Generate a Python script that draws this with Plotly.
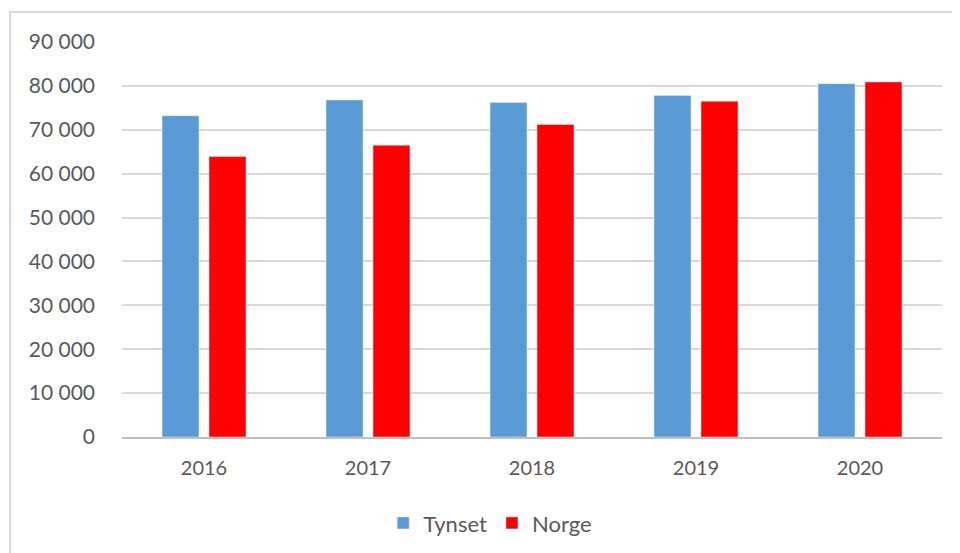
import plotly.graph_objs as go

years = ["2016", "2017", "2018", "2019", "2020"]
tynset = [73200, 76800, 76200, 77800, 80500]
norge = [63900, 66500, 71200, 76500, 80900]

colors = {'tynset': '#5B9BD5', 'norge': '#FF0000', 'text': '#595959', 'grid': '#D9D9D9'}

fig = go.Figure()
fig.add_trace(go.Bar(x=years, y=tynset, name="Tynset", marker=dict(color=colors['tynset'])))
fig.add_trace(go.Bar(x=years, y=norge, name="Norge", marker=dict(color=colors['norge'])))

# outer chart border, like the Excel chart area
fig.add_shape(
    type="rect", xref="paper", yref="paper",
    x0=-0.1366, y0=-0.34, x1=1.05, y1=1.076,
    line=dict(color="#D9D9D9", width=2),
    layer="below"
)

fig.update_xaxes(
    showgrid=False,
    showline=True, linecolor="#BFBFBF", linewidth=1.5,
    ticks="", ticklabelstandoff=12,
    tickfont=dict(size=20, color=colors['text']),
)
fig.update_yaxes(
    range=[0, 90000], dtick=10000,
    showgrid=True, gridcolor=colors['grid'], gridwidth=1.5,
    zeroline=False, showline=False,
    tickformat=",d", ticklabelstandoff=26,
    tickfont=dict(size=21, color=colors['text']),
)

# the page adds an 8px body margin, so margins are set 8px smaller
fig.update_layout(
    width=960, height=553,
    separators=", ",
    barmode="group", bargap=0.427, bargroupgap=0.213,
    plot_bgcolor="white", paper_bgcolor="white",
    font=dict(family="Lato, Open Sans, sans-serif", color=colors['text']),
    margin=dict(l=114, r=26, t=34, b=124),
    legend=dict(
        orientation="h", x=0.449, xanchor="center", y=-0.218, yanchor="middle",
        font=dict(size=22, color=colors['text']),
        itemwidth=30, tracegroupgap=0,
    ),
)

fig.write_html("out.html")
